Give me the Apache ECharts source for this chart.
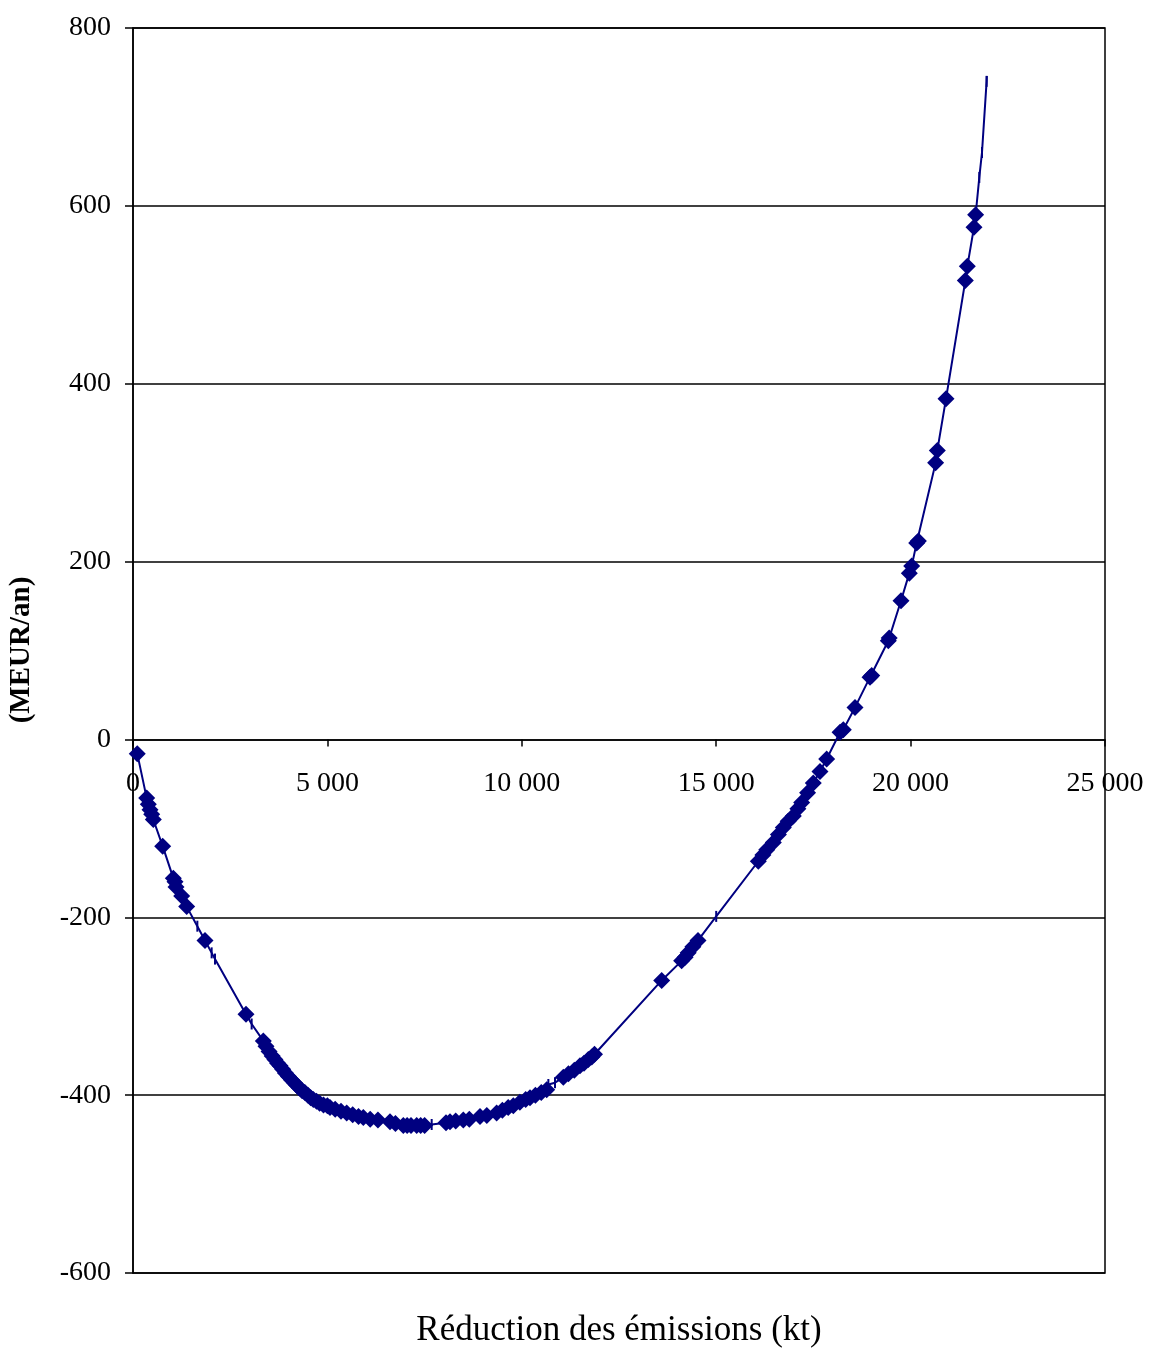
<!DOCTYPE html>
<html><head><meta charset="utf-8">
<script src="https://cdn.jsdelivr.net/npm/echarts@6/dist/echarts.min.js"></script>
<style>html,body{margin:0;padding:0;background:#fff}#c{width:1153px;height:1349px}</style>
</head><body><div id="c"></div>
<script>
// Axis settings
var xTicks = [0, 5000, 10000, 15000, 20000, 25000];
var yTicks = [-600, -400, -200, 0, 200, 400, 600, 800];
var xTitle = 'Réduction des émissions (kt)';
var yTitle = '(MEUR/an)';

// Points with diamond markers [emission reduction kt, cost MEUR/an]
var markerX = [110,352,394,437,480,522,763,1037,1080,1106,1252,1381,1852,2906,
 3352,3420,3500,3580,3650,3720,3781,3850,3920,4000,4080,4150,4210,4280,4350,4420,4500,4570,4638,4720,4800,4900,5000,5067,5200,5350,5496,5650,5800,5924,6100,6300,6610,6750,6953,7050,7150,7296,7400,7500,8050,8153,8300,8496,8650,8925,9100,9353,9500,9650,9782,9950,10100,10211,10350,10500,10640,11068,11200,11350,11497,11600,11711,11800,11870,
 13598,14111,14200,14280,14400,14532,16083,16200,16300,16469,16600,16726,16850,16983,17100,17198,17350,17497,17669,17841,18185,18270,18570,18956,19000,19427,19450,19753,19967,20028,20156,20200,20644,20687,20910,21408,21459,21631,21673];
var markerY = [-16,-66,-73,-79,-84,-90,-120,-156,-160,-166,-176,-188,-226,-309,
 -339,-345,-351,-356,-360,-364,-367,-371,-375,-379,-383,-386,-389,-392,-395,-397,-400,-403,-405,-407,-409,-411,-412,-414,-416,-418,-420,-422,-424,-425,-427,-428,-430,-432,-434,-434,-434,-434,-434,-434,-431,-430,-429,-428,-427,-424,-423,-420,-417,-414,-412,-408,-405,-403,-400,-397,-394,-380,-376,-372,-367,-364,-360,-357,-354,
 -271,-249,-245,-240,-233,-226,-137,-130,-124,-116,-107,-99,-92,-86,-78,-71,-60,-49,-36,-22,8,11,36,70,72,111,114,156,187,195,221,223,311,325,383,516,532,576,590];

// Line vertices without diamond markers (short vertical dash marks)
var dashX = [1655,2023,2109,3052,7682,9353,10683,10854,15000,21767,21836,21955];
var dashY = [-210,-240,-247,-320,-433,-420,-388,-386,-199,632,660,740];
// Final end of the curve
var endX = [21960];
var endY = [746];

var linePts = [];
markerX.forEach(function(x,i){linePts.push([x,markerY[i]]);});
dashX.forEach(function(x,i){linePts.push([x,dashY[i]]);});
endX.forEach(function(x,i){linePts.push([x,endY[i]]);});
linePts.sort(function(a,b){return a[0]-b[0];});
var markerPts = markerX.map(function(x,i){return [x,markerY[i]];});
var dashPts = dashX.map(function(x,i){return [x,dashY[i]];});
var xLabelPts = xTicks.map(function(x){return [x,0];});

function fmt(v){ return String(v).replace(/\B(?=(\d{3})+(?!\d))/g,' '); }

var navy = '#000080';
var font = '"Liberation Serif","Times New Roman",serif';
var chart = echarts.init(document.getElementById('c'), null, {renderer:'canvas'});
chart.setOption({
  animation:false,
  backgroundColor:'#fff',
  grid:{left:133, top:28, right:48, bottom:76, show:true, borderColor:'#000', borderWidth:1.5},
  xAxis:{type:'value', min:xTicks[0], max:xTicks[xTicks.length-1], interval:5000,
    axisLine:{show:true, onZero:true, lineStyle:{color:'#000', width:1.5}},
    axisTick:{show:true, inside:false, length:7, lineStyle:{color:'#000', width:1.5}},
    splitLine:{show:false},
    axisLabel:{show:false}},
  yAxis:{type:'value', min:yTicks[0], max:yTicks[yTicks.length-1], interval:200,
    axisLine:{show:true, onZero:false, lineStyle:{color:'#000', width:1.5}},
    axisTick:{show:true, inside:false, length:8, lineStyle:{color:'#000', width:1.5}},
    splitLine:{show:true, lineStyle:{color:'#000', width:1.5}},
    axisLabel:{color:'#000', fontFamily:font, fontSize:28, margin:22}},
  graphic:[
    {type:'text', x:619, y:1331, style:{text:xTitle, font:'35px '+font, fill:'#000', textAlign:'center', textVerticalAlign:'middle'}},
    {type:'text', x:7, y:650, rotation:Math.PI/2, style:{text:yTitle, font:'bold 29px '+font, fill:'#000', textAlign:'center', textVerticalAlign:'top'}}
  ],
  series:[
    {type:'line', data:linePts, showSymbol:false, symbol:'none', lineStyle:{color:navy, width:2}, z:3},
    {type:'scatter', data:markerPts, symbol:'diamond', symbolSize:17, itemStyle:{color:navy, opacity:1}, z:4},
    {type:'scatter', data:dashPts, symbol:'rect', symbolSize:[2,11], itemStyle:{color:navy, opacity:1}, z:4},
    {type:'scatter', data:xLabelPts, symbolSize:0, silent:true, z:5, itemStyle:{opacity:1},
      label:{show:true, position:'inside', offset:[0,44], formatter:function(p){return fmt(p.value[0]);},
        color:'#000', opacity:1, fontFamily:font, fontSize:28, textBorderWidth:0}}
  ]
});
</script></body></html>
